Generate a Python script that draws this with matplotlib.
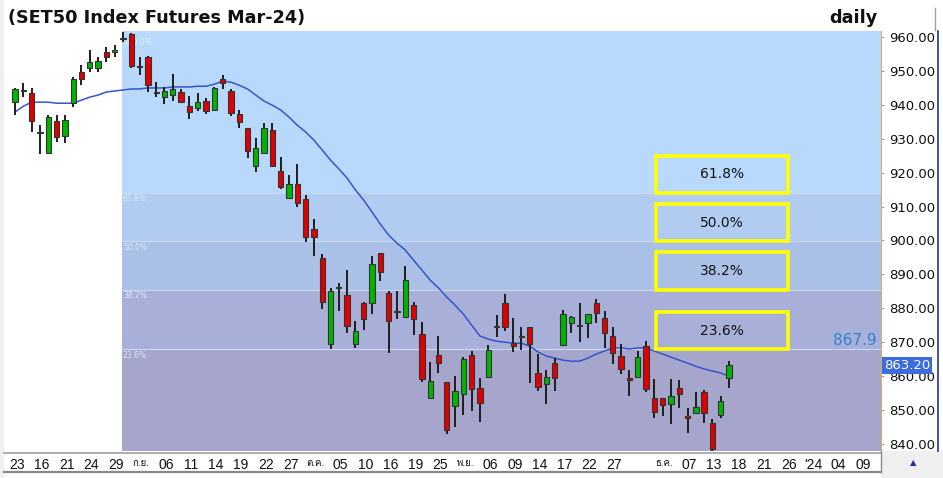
import matplotlib
matplotlib.use('Agg')
import matplotlib.pyplot as plt
import matplotlib.transforms as mtransforms
from matplotlib import font_manager
from matplotlib.ft2font import FT2Font
from matplotlib.patches import Rectangle
from matplotlib.lines import Line2D
import numpy as np

# look for a font that can draw the Thai month names
thai_font = None
for f in font_manager.fontManager.ttflist:
    try:
        if 0x0E01 in FT2Font(f.fname).get_charmap():
            thai_font = f.name
            break
    except Exception:
        pass
families = ['Liberation Sans'] + ([thai_font] if thai_font else []) + ['DejaVu Sans']
plt.rcParams['font.family'] = families

# daily OHLC, one row per trading day (mid Aug 2023 -> 15 Dec 2023)
opens = [940.8, 944.1, 943.5, 931.7, 925.8, 935.2, 930.8, 940.5, 949.7, 950.9,
         950.9, 955.6, 955.6, 959.4, 960.9, 951.1, 954.1, 943.5, 942.3, 942.9,
         943.8, 939.6, 939.1, 941.1, 938.5, 947.6, 944.1, 937.3, 933.2, 922.0,
         925.8, 932.6, 920.5, 912.5, 916.6, 912.2, 903.4, 894.8, 869.4, 886.0,
         883.9, 869.4, 881.5, 881.5, 896.3, 884.5, 878.9, 877.4, 880.9, 872.4,
         853.5, 866.2, 858.2, 851.2, 854.7, 866.2, 856.5, 859.7, 874.5, 881.5,
         869.7, 871.5, 874.5, 860.9, 857.6, 863.8, 869.1, 875.6, 874.8, 875.6,
         881.5, 877.1, 871.8, 865.9, 859.4, 859.7, 868.8, 853.5, 853.5, 851.8,
         856.5, 848.2, 849.1, 855.3, 846.1, 848.5, 859.4]
highs = [944.9, 946.4, 945.0, 934.0, 937.0, 937.0, 937.0, 948.2, 951.7, 956.2,
         954.1, 957.1, 957.6, 961.5, 961.2, 954.1, 954.5, 946.7, 945.3, 949.1,
         944.7, 942.6, 943.5, 942.0, 945.3, 948.8, 944.7, 938.5, 933.2, 930.2,
         934.6, 934.6, 924.6, 919.3, 922.5, 913.4, 906.3, 896.0, 886.0, 887.4,
         891.3, 876.2, 881.8, 895.4, 896.3, 885.1, 885.1, 892.5, 881.8, 875.9,
         864.1, 871.8, 858.2, 860.0, 865.6, 867.4, 859.4, 869.1, 878.0, 884.2,
         877.1, 874.5, 874.5, 866.5, 861.8, 865.3, 879.5, 877.6, 881.5, 878.3,
         882.7, 879.2, 874.5, 869.4, 861.8, 867.4, 870.3, 859.1, 853.5, 859.1,
         858.8, 850.6, 855.3, 855.9, 847.3, 854.1, 864.4]
lows = [937.0, 942.3, 932.0, 925.5, 925.5, 929.0, 928.7, 939.4, 945.8, 949.7,
        949.7, 952.6, 954.1, 958.5, 951.0, 948.8, 943.8, 942.3, 940.2, 941.1,
        940.5, 935.8, 938.2, 937.3, 938.2, 944.7, 936.7, 933.2, 924.3, 920.2,
        925.5, 921.7, 915.2, 912.5, 909.9, 899.5, 895.4, 879.8, 868.0, 879.2,
        872.7, 868.3, 873.6, 878.3, 888.0, 866.8, 876.8, 877.1, 872.1, 858.2,
        853.5, 860.9, 842.9, 845.0, 848.5, 849.7, 846.4, 859.7, 871.5, 873.3,
        867.1, 867.7, 857.9, 855.6, 851.7, 855.6, 869.1, 872.7, 870.0, 871.2,
        875.6, 868.3, 863.5, 860.6, 854.1, 859.7, 855.3, 847.6, 848.2, 845.8,
        850.6, 843.2, 849.1, 846.1, 837.9, 847.6, 856.5]
closes = [944.7, 944.2, 935.2, 931.8, 936.4, 930.5, 935.5, 947.6, 947.6, 952.6,
          952.9, 954.1, 956.2, 959.3, 951.4, 951.3, 945.8, 943.4, 944.1, 944.7,
          940.8, 937.9, 940.8, 938.2, 945.0, 946.4, 937.6, 934.9, 926.4, 927.3,
          933.2, 922.0, 915.8, 916.6, 911.0, 901.0, 901.0, 881.8, 885.1, 886.1,
          874.7, 873.3, 876.8, 893.0, 890.7, 876.2, 879.0, 888.3, 876.8, 859.1,
          858.5, 863.8, 844.1, 855.6, 865.0, 856.2, 852.0, 867.7, 874.6, 874.5,
          868.8, 871.8, 869.4, 856.8, 859.7, 859.4, 878.3, 877.4, 874.9, 878.3,
          878.6, 872.7, 866.8, 862.1, 858.8, 865.6, 856.2, 849.4, 851.5, 854.1,
          854.7, 847.6, 850.9, 849.1, 838.5, 852.6, 863.2]
# moving average line as drawn on the chart
ma = [937.9, 939.6, 940.8, 940.8, 940.8, 940.5, 940.5, 940.5, 941.4, 942.3,
      942.9, 943.8, 944.1, 944.4, 944.7, 944.7, 945.0, 945.0, 945.0, 945.3,
      945.3, 945.3, 945.5, 945.5, 946.1, 947.0, 946.7, 945.8, 944.7, 942.9,
      941.1, 939.9, 938.5, 936.4, 934.0, 932.0, 929.6, 926.7, 923.7, 921.1,
      918.4, 914.9, 911.9, 908.4, 904.8, 901.6, 899.2, 897.2, 894.2, 891.3,
      888.3, 886.0, 883.3, 880.9, 878.3, 875.0, 871.8, 870.9, 870.3, 870.0,
      869.7, 869.7, 868.8, 867.1, 865.9, 865.3, 864.7, 864.4, 864.4, 865.3,
      866.5, 867.4, 868.3, 868.3, 868.0, 868.3, 868.3, 867.4, 866.5, 865.6,
      864.7, 863.8, 862.9, 862.1, 861.5, 860.9, 860.0]

# x axis labels, one every 3 bars
tick_labels = ['23', '16', '21', '24', '29', 'ก.ย.', '06', '11', '14', '19', '22', '27',
               'ต.ค.', '05', '10', '16', '19', '25', 'พ.ย.', '06', '09', '14', '17', '22',
               '27', '', 'ธ.ค.', '07', '13', '18', '21', '26', "'24", '04', '09']
thai_months = ['ก.ย.', 'ต.ค.', 'พ.ย.', 'ธ.ค.']

# fibonacci retracement
fib_high = 960.1
fib_low = 839.4
fib_start = 12.9
fib_ratios = [0.236, 0.382, 0.5, 0.618]

W, H = 943, 478
def fx(px):
    return px / W
def fy(py):
    return 1 - py / H

fig = plt.figure(figsize=(W / 100, H / 100), dpi=100, facecolor='white')
fig.add_artist(Rectangle((0, 0), fx(4), 1, transform=fig.transFigure,
                         facecolor='#f0f0f0', edgecolor='none', zorder=0))
ax = fig.add_axes([fx(4), fy(451), fx(881) - fx(4), fy(31) - fy(451)])
ax.set_facecolor('white')

x = np.arange(len(closes))
xmin, xmax = -1.33, 104.3
ymin, ymax = 837.9, 961.8
ax.set_xlim(xmin, xmax)
ax.set_ylim(ymin, ymax)

# fib zones
levels = [fib_low + r * (fib_high - fib_low) for r in fib_ratios]
bounds = [ymin] + levels + [ymax]
zone_colors = ['#a6a6cc', '#a8b0d9', '#abc0e6', '#b1ccf0', '#b9d9fc']
for lo, hi, col in zip(bounds[:-1], bounds[1:], zone_colors):
    ax.fill_between([fib_start, xmax], lo, hi, color=col, lw=0, zorder=1)
for r, lev in zip(fib_ratios, levels):
    ax.plot([fib_start, xmax], [lev, lev], color='#cbd8ef', lw=0.8, zorder=1.5)
    ax.text(fib_start + 0.1, lev - 0.4, f'{r * 100:.1f}%', fontsize=5.5,
            color='#dce8fb', va='top', ha='left', family='DejaVu Sans', zorder=1.6)
ax.text(fib_start + 0.1, fib_high - 0.4, '100.0%', fontsize=5.5, color='#e6f1ff',
        va='top', ha='left', family='DejaVu Sans', zorder=1.6)

# moving average
ax.plot(x, ma, color='#3556c8', lw=1.1, zorder=2.5)

# candles
o = np.array(opens)
c = np.array(closes)
cols = np.where(c >= o, '#00b400', '#e00000')
ax.vlines(x, lows, highs, color='#1e1e1e', lw=1.4, zorder=3)
ax.bar(x, np.maximum(np.abs(c - o), 0.35), 0.64, np.minimum(o, c), color=cols,
       edgecolor='#333333', lw=0.8, zorder=4)

# yellow boxes above each level
for r, lev in zip(fib_ratios, levels):
    ax.add_patch(Rectangle((77.2, lev), 15.9, 11, fill=False, edgecolor='#ffff00',
                           lw=2.6, zorder=6))
    ax.text(85.15, lev + 5.5, f'{r * 100:.1f}%', ha='center', va='center',
            fontsize=10, color='#111111', family='DejaVu Sans', zorder=7)

ax.text(103.8, levels[0] + 0.3, f'{levels[0]:.1f}', ha='right', va='bottom',
        color='#2e82d2', fontsize=11, family='DejaVu Sans', zorder=7)

# y axis on the right
ax.yaxis.tick_right()
yt = list(range(840, 961, 10))
ax.set_yticks(yt)
ax.set_yticklabels([f'{v:.2f}' for v in yt], family='DejaVu Sans')
ax.tick_params(axis='y', labelsize=9.5, pad=4, length=2, color='#b0a070', labelcolor='#111111')
for s in ['top', 'left', 'bottom']:
    ax.spines[s].set_visible(False)
ax.spines['right'].set_color('#c8b46a')
ax.spines['right'].set_linestyle((0, (1, 1)))

# last price tag
trans = mtransforms.blended_transform_factory(ax.transAxes, ax.transData)
ax.text(1.003, closes[-1], f'{closes[-1]:.2f}', transform=trans, ha='left', va='center',
        color='white', fontsize=9.5, family='DejaVu Sans', zorder=10, clip_on=False,
        bbox=dict(boxstyle='square,pad=0.15', fc='#3d6be0', ec='none'))

# x axis
ax.set_xticks(np.arange(0, 3 * len(tick_labels), 3) + 0.2)
ax.set_xticklabels(tick_labels)
ax.tick_params(axis='x', length=0, pad=5, labelsize=10, labelcolor='#111111')
for lab in ax.get_xticklabels():
    if lab.get_text() in thai_months:
        lab.set_fontsize(7)

# frame lines around the date strip and price panel
fig.add_artist(Line2D([fx(4), fx(881)], [fy(453), fy(453)], color='#a0a0a0', lw=1.2))
fig.add_artist(Line2D([fx(4), fx(881)], [fy(472), fy(472)], color='#8a8a8a', lw=1.6))
fig.add_artist(Line2D([fx(881), fx(881)], [fy(451), fy(472)], color='#8a8a8a', lw=1.0))
fig.add_artist(Line2D([fx(938), fx(938)], [fy(31), fy(451)], color='#2030a0', lw=1.2))
fig.add_artist(Line2D([fx(935), fx(935)], [fy(8), fy(30)], color='#a0a0a0', lw=1.0))
fig.add_artist(Rectangle((fx(881), fy(478)), fx(943) - fx(881), fy(451) - fy(478),
                         transform=fig.transFigure, facecolor='#f0f0f0', edgecolor='none', zorder=0))
fig.text(fx(913), fy(463), '▲', color='#2030a0', fontsize=6, ha='center', va='center',
         family='DejaVu Sans')

# header
fig.text(fx(8), fy(18), '(SET50 Index Futures Mar-24)', fontsize=12.7, fontweight='bold',
         ha='left', va='center', color='#111111', family='DejaVu Sans')
fig.text(fx(878), fy(18), 'daily', fontsize=12.7, fontweight='bold', ha='right',
         va='center', color='#111111', family='DejaVu Sans')

fig.savefig('out.png', dpi=100, facecolor=fig.get_facecolor())
